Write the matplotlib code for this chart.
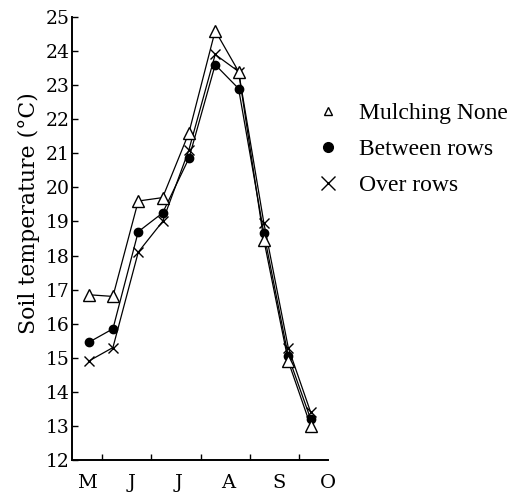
import matplotlib
matplotlib.use("Agg")
import matplotlib.pyplot as plt
from matplotlib.lines import Line2D

# Data
x_pos = [0.723, 1.218, 1.733, 2.228, 2.762, 3.297, 3.772, 4.287, 4.782, 5.238]
mulching_none = [16.85, 16.8, 19.6, 19.7, 21.6, 24.6, 23.4, 18.45, 14.9, 13.0]
between_rows = [15.45, 15.85, 18.7, 19.25, 20.85, 23.6, 22.9, 18.65, 15.05, 13.2]
over_rows = [14.9, 15.3, 18.1, 19.0, 21.1, 23.9, 23.4, 18.95, 15.3, 13.4]
month_labels = ["M", "J", "J", "A", "S", "O"]
month_label_pos = [0.70, 1.59, 2.56, 3.57, 4.60, 5.59]
month_ticks = [1, 2, 3, 4, 5]
y_ticks = list(range(12, 26))
legend_labels = ["Mulching None", "Between rows", "Over rows"]

plt.rcParams['font.family'] = ['DejaVu Serif']

fig = plt.figure(figsize=(5.2, 4.96), dpi=100)
ax = fig.add_axes([72/520, 1-460/496, (328-72)/520, (460-17)/496])

ax.plot(x_pos, between_rows, color='black', lw=0.9, marker='o', ms=6,
        mfc='black', mec='black', zorder=3)
ax.plot(x_pos, over_rows, color='black', lw=0.9, marker='x', ms=7,
        mew=1.0, mec='black', zorder=3)
ax.plot(x_pos, mulching_none, color='black', lw=0.9, marker='^', ms=9,
        mfc='white', mec='black', mew=1.0, zorder=4)

ax.set_xlim(0.386, 5.46)
ax.set_ylim(12, 25)
ax.set_yticks(y_ticks)
ax.set_yticklabels([str(v) for v in y_ticks], fontsize=13.5)
ax.set_xticks(month_ticks)
ax.set_xticklabels([])
ax.set_xticks(month_label_pos, minor=True)
ax.set_xticklabels(month_labels, minor=True, fontsize=14)
ax.tick_params(axis='x', which='minor', length=0, pad=10)
ax.tick_params(axis='x', which='major', direction='in', length=4, width=1)
ax.tick_params(axis='y', direction='in', length=4.5, width=1, pad=2)

for s in ['top', 'right']:
    ax.spines[s].set_visible(False)
for s in ['left', 'bottom']:
    ax.spines[s].set_linewidth(1.4)

ax.set_ylabel("Soil temperature (°C)", fontsize=15.8)
ax.yaxis.set_label_coords(-0.125, (460-213)/443)

handles = [
    Line2D([], [], ls='none', marker='^', ms=6, mfc='white', mec='black', mew=1.0),
    Line2D([], [], ls='none', marker='o', ms=7, mfc='black', mec='black'),
    Line2D([], [], ls='none', marker='x', ms=10, mec='black', mew=1.0),
]
leg = fig.legend(handles, legend_labels, loc='upper left',
                 bbox_to_anchor=(304/520, 1-93/496), frameon=False,
                 prop={'family': 'Liberation Serif', 'size': 17},
                 handlelength=1.2, handletextpad=0.75,
                 labelspacing=0.62, borderaxespad=0)

fig.savefig("out.png", dpi=100)
